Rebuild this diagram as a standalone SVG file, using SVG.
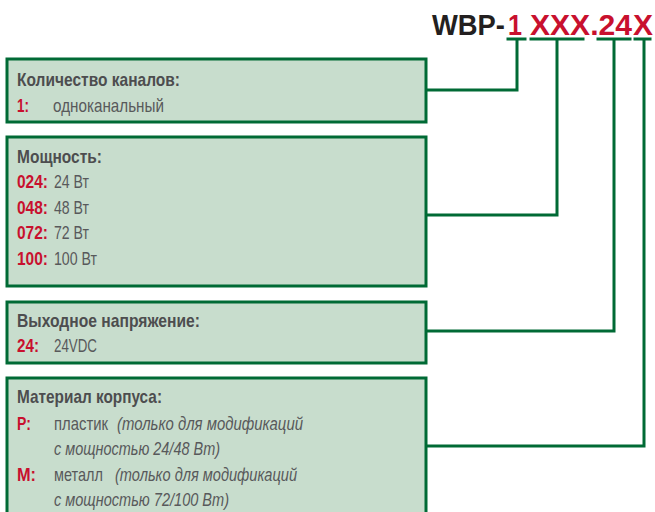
<svg xmlns="http://www.w3.org/2000/svg" width="655" height="512" viewBox="0 0 655 512">
  <style>
    .box { fill: #c8ddcd; stroke: #006a35; stroke-width: 3; }
    .link { fill: none; stroke: #006a35; stroke-width: 3; stroke-linecap: square; }
    .t { font-family: "Liberation Sans Narrow", "Liberation Sans", Arial, sans-serif; font-size: 19px; }
    .h { font-weight: bold; fill: #4d4d4f; }
    .k { font-weight: bold; fill: #c8102e; }
    .v { fill: #58595b; }
    .i { fill: #58595b; font-style: italic; }
    .code { font-family: "Liberation Sans", Arial, sans-serif; font-size: 27.5px; font-weight: bold; fill: #c8102e; }
  </style>

  <!-- model code, slightly stretched vertically -->
  <g id="code">
    <text class="code" transform="translate(0 35) scale(1 1.1)"><tspan x="432" y="0" fill="#231f20" textLength="73" lengthAdjust="spacingAndGlyphs">WBP-</tspan><tspan x="508" y="0" textLength="14" lengthAdjust="spacingAndGlyphs">1</tspan><tspan x="530" y="0" textLength="102" lengthAdjust="spacingAndGlyphs">XXX.24</tspan><tspan x="633" y="0" textLength="20" lengthAdjust="spacingAndGlyphs">X</tspan></text>
  </g>

  <!-- connectors from code positions to boxes -->
  <g id="connectors">
    <path class="link" d="M508 39 H525 M517 39 V90 H426"/>
    <path class="link" d="M531 39 H583 M557 39 V215 H426"/>
    <path class="link" d="M598 39 H630 M614 39 V331 H426"/>
    <path class="link" d="M635 39 H650 M644 39 V446 H426"/>
  </g>

  <g id="channels">
    <rect class="box" x="7" y="59" width="419" height="63"/>
    <text class="t h" x="17" y="86" textLength="163" lengthAdjust="spacingAndGlyphs">Количество каналов:</text>
    <text class="t k" x="17" y="112" textLength="12" lengthAdjust="spacingAndGlyphs">1:</text>
    <text class="t v" x="53" y="112" textLength="111" lengthAdjust="spacingAndGlyphs">одноканальный</text>
  </g>

  <g id="power">
    <rect class="box" x="7" y="137" width="419" height="149"/>
    <text class="t h" x="17" y="163" textLength="85" lengthAdjust="spacingAndGlyphs">Мощность:</text>
    <text class="t k" x="17" y="188" textLength="31" lengthAdjust="spacingAndGlyphs">024:</text>
    <text class="t v" x="54" y="188" textLength="35" lengthAdjust="spacingAndGlyphs">24 Вт</text>
    <text class="t k" x="17" y="213.5" textLength="31" lengthAdjust="spacingAndGlyphs">048:</text>
    <text class="t v" x="54" y="213.5" textLength="35" lengthAdjust="spacingAndGlyphs">48 Вт</text>
    <text class="t k" x="17" y="239" textLength="31" lengthAdjust="spacingAndGlyphs">072:</text>
    <text class="t v" x="54" y="239" textLength="35" lengthAdjust="spacingAndGlyphs">72 Вт</text>
    <text class="t k" x="17" y="264.5" textLength="31" lengthAdjust="spacingAndGlyphs">100:</text>
    <text class="t v" x="54" y="264.5" textLength="43" lengthAdjust="spacingAndGlyphs">100 Вт</text>
  </g>

  <g id="voltage">
    <rect class="box" x="7" y="302" width="419" height="61"/>
    <text class="t h" x="17" y="327" textLength="183" lengthAdjust="spacingAndGlyphs">Выходное напряжение:</text>
    <text class="t k" x="17" y="352" textLength="22" lengthAdjust="spacingAndGlyphs">24:</text>
    <text class="t v" x="54" y="352" textLength="43" lengthAdjust="spacingAndGlyphs">24VDC</text>
  </g>

  <g id="housing">
    <rect class="box" x="7" y="378" width="419" height="140"/>
    <text class="t h" x="17" y="403" textLength="145" lengthAdjust="spacingAndGlyphs">Материал корпуса:</text>
    <text class="t k" x="17" y="430" textLength="14" lengthAdjust="spacingAndGlyphs">P:</text>
    <text class="t v" x="54" y="430" textLength="54" lengthAdjust="spacingAndGlyphs">пластик</text>
    <text class="t i" x="117" y="430" textLength="186" lengthAdjust="spacingAndGlyphs">(только для модификаций</text>
    <text class="t i" x="54" y="455" textLength="166" lengthAdjust="spacingAndGlyphs">с мощностью 24/48 Вт)</text>
    <text class="t k" x="17" y="481" textLength="19" lengthAdjust="spacingAndGlyphs">M:</text>
    <text class="t v" x="54" y="481" textLength="49" lengthAdjust="spacingAndGlyphs">металл</text>
    <text class="t i" x="115" y="481" textLength="182" lengthAdjust="spacingAndGlyphs">(только для модификаций</text>
    <text class="t i" x="54" y="506" textLength="175" lengthAdjust="spacingAndGlyphs">с мощностью 72/100 Вт)</text>
  </g>
</svg>
